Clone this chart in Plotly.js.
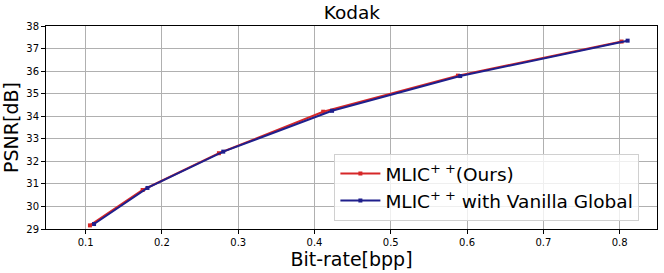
<!DOCTYPE html>
<html><head><meta charset="utf-8">
<script src="https://cdn.plot.ly/plotly-3.0.1.min.js"></script>
<style>html,body{margin:0;padding:0;background:#fff}#chart{width:664px;height:273px}</style>
</head><body><div id="chart"></div>
<script>
const oursRate = [0.1056, 0.1747, 0.2747, 0.4114, 0.588, 0.8026];
const oursPSNR = [29.16, 30.73, 32.36, 34.20, 35.80, 37.31];
const vanillaRate = [0.111, 0.181, 0.2804, 0.423, 0.591, 0.8105];
const vanillaPSNR = [29.22, 30.82, 32.43, 34.24, 35.78, 37.35];
const seriesNames = ["MLIC<sup>+ +</sup>(Ours)", "MLIC<sup>+ +</sup> with Vanilla Global"];
const xTicks = [0.1, 0.2, 0.3, 0.4, 0.5, 0.6, 0.7, 0.8];
const yTicks = [29, 30, 31, 32, 33, 34, 35, 36, 37, 38];

const F = "DejaVu Sans, sans-serif";
const data = [
  {x: oursRate, y: oursPSNR, name: seriesNames[0], mode: "lines+markers",
   line: {color: "#d62728", width: 2}, marker: {symbol: "square", size: 4, color: "#d62728"}},
  {x: vanillaRate, y: vanillaPSNR, name: seriesNames[1], mode: "lines+markers",
   line: {color: "#1f1f8c", width: 2}, marker: {symbol: "square", size: 4, color: "#1f1f8c"}}
];
const axisCommon = {showline: true, mirror: true, linecolor: "#000", linewidth: 1,
  ticks: "outside", ticklen: 4, tickcolor: "#000", showgrid: true, gridcolor: "#b0b0b0",
  gridwidth: 1, zeroline: false, tickfont: {family: F, size: 10, color: "#000"}};
const layout = {
  width: 664, height: 273, paper_bgcolor: "#fff", plot_bgcolor: "#fff",
  margin: {l: 46, r: 7, t: 26, b: 44},
  title: {text: "Kodak", font: {family: F, size: 18.5, color: "#000"}, x: 0.53, xanchor: "center", y: 0.955, yanchor: "middle"},
  xaxis: Object.assign({}, axisCommon, {range: [0.048, 0.849], tickvals: xTicks, ticktext: xTicks.map(String),
    title: {text: "Bit-rate[bpp]", font: {family: F, size: 19, color: "#000"}, standoff: 3}}),
  yaxis: Object.assign({}, axisCommon, {range: [29, 38], tickvals: yTicks,
    title: {text: "PSNR[dB]", font: {family: F, size: 19, color: "#000"}, standoff: 4}}),
  legend: {x: 0.472, y: 0.04, xanchor: "left", yanchor: "bottom", bgcolor: "rgba(255,255,255,0.8)",
    bordercolor: "#d0d0d0", borderwidth: 1, font: {family: F, size: 18.5, color: "#000"},
    itemwidth: 40, tracegroupgap: 0},
  showlegend: true
};
Plotly.newPlot("chart", data, layout, {displayModeBar: false, staticPlot: true});
</script></body></html>
